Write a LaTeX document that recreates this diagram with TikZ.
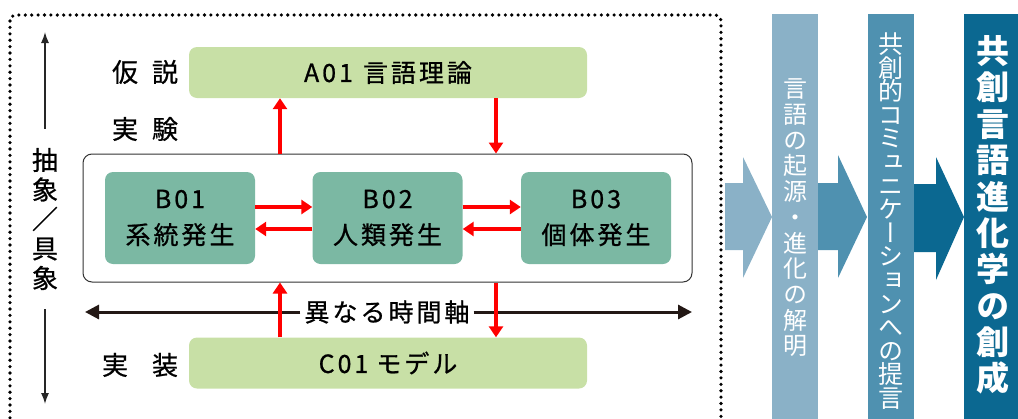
\documentclass[tikz,border=0pt]{standalone}
\usepackage{fontspec}
\setmainfont{Noto Sans CJK JP}[FakeBold=0.8]
\newfontfamily\jpsp{Noto Sans CJK JP}[FakeBold=0.8, LetterSpace=12]
\newfontfamily\jpv{Noto Sans CJK JP}[RawFeature={+vert}]
\usetikzlibrary{arrows.meta}
\definecolor{lgreen}{RGB}{200,224,166}
\definecolor{teal}{RGB}{123,184,163}
\definecolor{colA}{RGB}{138,177,199}
\definecolor{colB}{RGB}{79,145,176}
\definecolor{colC}{RGB}{11,104,145}
\definecolor{axdark}{RGB}{35,24,21}
\tikzset{
  lbox/.style={fill=lgreen, rounded corners=8pt, minimum width=398pt, minimum height=51pt, inner sep=0pt, font=\jpsp\fontsize{25}{30}\selectfont},
  bbox/.style={fill=teal, rounded corners=8pt, minimum width=150pt, minimum height=92pt, inner sep=0pt, align=center, font=\jpsp\fontsize{25}{36}\selectfont},
  groupbox/.style={draw=black!80, line width=1pt, rounded corners=9pt, minimum width=609pt, minimum height=128pt},
  redarr/.style={draw=red, line width=3.2pt, -{Triangle[length=11pt,width=14pt]}},
  axisarr/.style={draw=axdark, line width=3pt, -{Triangle[length=14pt,width=14pt]}},
  vaxis/.style={draw=black!85, line width=1.3pt, -{Latex[length=11pt,width=8pt]}},
  sidelabel/.style={font=\fontsize{26}{30}\selectfont},
  dotframe/.style={draw=black, line width=3.6pt, dash pattern=on 0pt off 6.4pt, line cap=round, rounded corners=6pt},
  vtext/.style={text=white, align=center, inner sep=0pt}
}
\begin{document}
\begin{tikzpicture}[x=1pt,y=-1pt]
\useasboundingbox (0,0) rectangle (1018,418);
\clip (0,0) rectangle (1018,418);

% dotted frame
\draw[dotframe] (10,15) rectangle (721,445);

% left abstract/concrete axis
\node[sidelabel, align=center, font=\fontsize{26}{29.5}\selectfont, inner xsep=0pt, inner ysep=19pt] (lv) at (45,219) {抽\\象\\／\\具\\象};
\coordinate (lvt) at (45,32);
\coordinate (lvb) at (45,404);
\draw[vaxis] (lv.north) -- (lvt);
\draw[vaxis] (lv.south) -- (lvb);

% side labels
\node[sidelabel] (kasetsu) at (145,72) {仮\hspace{14pt}説};
\node[sidelabel] (jikken) at (145,129) {実\hspace{14pt}験};
\node[sidelabel] (jissou) at (140,365) {実\hspace{24pt}装};

% main boxes
\node[lbox] (a01) at (388,72.5) {A01\hspace{10pt}言語理論};
\node[groupbox] (grp) at (387.5,218) {};
\node[bbox] (b01) at (180,218) {B01\\系統発生};
\node[bbox] (b02) at (387.5,218) {B02\\人類発生};
\node[bbox] (b03) at (596,218) {B03\\個体発生};
\node[lbox] (c01) at (388,363) {C01\hspace{8pt}モデル};

% time axis
\node[font=\jpsp\fontsize{25}{30}\selectfont, fill=white, inner xsep=4pt, inner ysep=0pt] (ax) at (387,312) {異なる時間軸};
\coordinate (axl) at (85,312);
\coordinate (axr) at (692,312);
\draw[axisarr] (ax.west) -- (axl);
\draw[axisarr] (ax.east) -- (axr);

% red arrows
\coordinate (xl) at (280,0);
\coordinate (xr) at (496,0);
\coordinate (yu) at (0,207);
\coordinate (yd) at (0,229);
\draw[redarr] (xl |- grp.north) -- (xl |- a01.south);
\draw[redarr] (xr |- a01.south) -- (xr |- grp.north);
\draw[redarr] (xl |- c01.north) -- (xl |- grp.south);
\draw[redarr] (xr |- grp.south) -- (xr |- c01.north);
\draw[redarr] (b01.east |- yu) -- (b02.west |- yu);
\draw[redarr] (b02.west |- yd) -- (b01.east |- yd);
\draw[redarr] (b02.east |- yu) -- (b03.west |- yu);
\draw[redarr] (b03.west |- yd) -- (b02.east |- yd);

% right side: block arrows and columns
\fill[colA] (725,183) -- (743,183) -- (743,157) -- (772,217) -- (743,278) -- (743,250) -- (725,250) -- cycle;
\fill[colA] (772,14) rectangle (818,430);
\fill[colB] (818,183) -- (838,183) -- (838,155) -- (867,217) -- (838,278) -- (838,250) -- (818,250) -- cycle;
\fill[colB] (868,14) rectangle (914,430);
\fill[colC] (914,184) -- (936,184) -- (936,157) -- (964,217) -- (936,280) -- (936,252) -- (914,252) -- cycle;
\fill[colC] (964,14) rectangle (1030,430);

\node[vtext, font={\jpv\fontsize{24}{25.7}\selectfont}] (t1) at (795,218) {言\\語\\の\\起\\源\\・\\進\\化\\の\\解\\明};
\node[vtext, font={\jpv\fontsize{25}{23.6}\selectfont}] (t2) at (891,221) {共\\創\\的\\コ\\ミ\\ュ\\ニ\\ケ\\ー\\シ\\ョ\\ン\\へ\\の\\提\\言};
\node[vtext, font={\jpv\bfseries\fontsize{33}{36.4}\selectfont}] (t3) at (993,215) {共\\創\\言\\語\\進\\化\\学\\の\\創\\成};
\end{tikzpicture}
\end{document}
